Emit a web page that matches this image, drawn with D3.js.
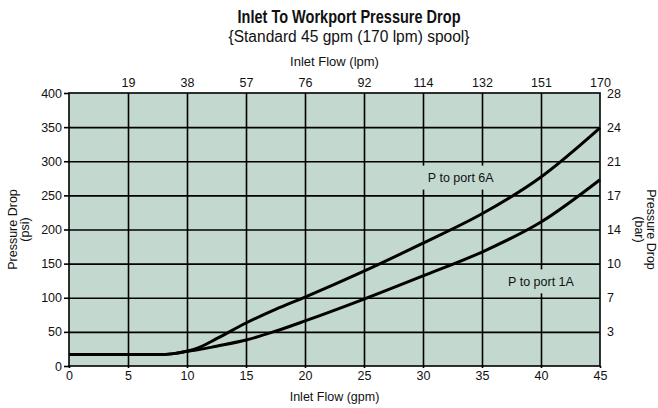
<!DOCTYPE html>
<html>
<head>
<meta charset="utf-8">
<script src="https://cdn.jsdelivr.net/npm/d3@7"></script>
<style>
  body { margin: 0; background: #fff; }
  text { font-family: "Liberation Sans", Arial, sans-serif; fill: #111; }
</style>
</head>
<body>
<div id="chart"></div>
<script>
// flow in gpm, pressure drop in psi
var flowGpm = [0, 5, 8, 9, 10, 11, 12.5, 15, 17.5, 20, 25, 30, 35, 40, 45];
var port6A  = [17, 17, 17, 18.5, 21.5, 27, 40, 63, 83, 101, 139, 180, 223, 277, 349];
var port1A  = [17, 17, 17, 18.5, 21.5, 24, 29, 38, 51, 66, 98, 132, 167, 211, 273];

var gpmTicks = [0, 5, 10, 15, 20, 25, 30, 35, 40, 45];
var lpmLabels = ["19", "38", "57", "76", "92", "114", "132", "151", "170"];
var psiTicks = [0, 50, 100, 150, 200, 250, 300, 350, 400];
var barLabels = ["3", "7", "10", "14", "17", "21", "24", "28"];

var W = 658, H = 408;
var margin = { top: 93, right: 58, bottom: 42, left: 69 };
var width = W - margin.left - margin.right;
var height = H - margin.top - margin.bottom;

var svg = d3.select("#chart").append("svg")
  .attr("width", W).attr("height", H);

var g = svg.append("g")
  .attr("transform", "translate(" + margin.left + "," + margin.top + ")");

var x = d3.scaleLinear().domain([0, 45]).range([0, width]);
var y = d3.scaleLinear().domain([0, 400]).range([height, 0]);

// plot background
g.append("rect")
  .attr("width", width).attr("height", height)
  .attr("fill", "#c3d9cf");

// grid
g.append("g")
  .attr("class", "grid")
  .call(d3.axisBottom(x).tickValues(gpmTicks.slice(1, -1)).tickSize(height).tickFormat(""))
  .call(s => s.select(".domain").remove());
g.append("g")
  .attr("class", "grid")
  .call(d3.axisLeft(y).tickValues(psiTicks.slice(1, -1)).tickSize(-width).tickFormat(""))
  .call(s => s.select(".domain").remove());
g.selectAll(".grid line").attr("stroke", "#000").attr("stroke-width", 1.6);

// label boxes hide the grid under the curve labels
var labels = [
  { text: "P to port 6A", gpm: 33.2, psi: 276 },
  { text: "P to port 1A", gpm: 40, psi: 124 }
];
labels.forEach(function (d) {
  g.append("rect")
    .attr("x", x(d.gpm) - 47).attr("y", y(d.psi) - 12)
    .attr("width", 94).attr("height", 24)
    .attr("fill", "#c3d9cf");
  g.append("text")
    .attr("x", x(d.gpm)).attr("y", y(d.psi) + 4.5)
    .attr("text-anchor", "middle")
    .style("font-size", "12.5px")
    .text(d.text);
});

// curves
var line = d3.line()
  .x((d) => x(d[0]))
  .y((d) => y(d[1]))
  .curve(d3.curveMonotoneX);

[port6A, port1A].forEach(function (s) {
  g.append("path")
    .datum(flowGpm.map((f, i) => [f, s[i]]))
    .attr("fill", "none")
    .attr("stroke", "#000")
    .attr("stroke-width", 3)
    .attr("d", line);
});

// frame
g.append("rect")
  .attr("width", width).attr("height", height)
  .attr("fill", "none").attr("stroke", "#000").attr("stroke-width", 1.6);

// left axis (psi)
var leftAxis = g.append("g")
  .call(d3.axisLeft(y).tickValues(psiTicks).tickSize(5).tickPadding(2));
leftAxis.select(".domain").remove();
leftAxis.selectAll("line").attr("stroke", "#000").attr("stroke-width", 1.6);
leftAxis.selectAll("text").style("font-size", "12.5px").attr("fill", "#111");

// bottom axis (gpm)
var bottomAxis = g.append("g")
  .attr("transform", "translate(0," + height + ")")
  .call(d3.axisBottom(x).tickValues(gpmTicks).tickSize(2).tickPadding(3));
bottomAxis.select(".domain").remove();
bottomAxis.selectAll("line").attr("stroke", "#000").attr("stroke-width", 1.6);
bottomAxis.selectAll("text").style("font-size", "12.5px").attr("fill", "#111");

// top axis (lpm labels)
var topAxis = g.append("g")
  .call(d3.axisTop(x).tickValues(gpmTicks.slice(1))
    .tickFormat((d, i) => lpmLabels[i]).tickSize(0).tickPadding(6));
topAxis.select(".domain").remove();
topAxis.selectAll("text").style("font-size", "12.5px").attr("fill", "#111");

// right axis (bar labels)
var rightAxis = g.append("g")
  .attr("transform", "translate(" + width + ",0)")
  .call(d3.axisRight(y).tickValues(psiTicks.slice(1))
    .tickFormat((d, i) => barLabels[i]).tickSize(0).tickPadding(7));
rightAxis.select(".domain").remove();
rightAxis.selectAll("text").style("font-size", "12.5px").attr("fill", "#111");

// titles
svg.append("text")
  .attr("x", 349).attr("y", 23)
  .attr("text-anchor", "middle")
  .attr("textLength", 223).attr("lengthAdjust", "spacingAndGlyphs")
  .style("font-size", "18px").style("font-weight", "bold")
  .text("Inlet To Workport Pressure Drop");
svg.append("text")
  .attr("x", 349).attr("y", 42)
  .attr("text-anchor", "middle")
  .attr("textLength", 241).attr("lengthAdjust", "spacingAndGlyphs")
  .style("font-size", "16px")
  .text("{Standard 45 gpm (170 lpm) spool}");

svg.append("text")
  .attr("x", margin.left + width / 2).attr("y", 66)
  .attr("text-anchor", "middle")
  .style("font-size", "13px")
  .text("Inlet Flow (lpm)");

svg.append("text")
  .attr("x", margin.left + width / 2).attr("y", 401)
  .attr("text-anchor", "middle")
  .style("font-size", "12.5px")
  .text("Inlet Flow (gpm)");

// y titles
var yl = svg.append("text")
  .attr("transform", "translate(17," + (margin.top + height / 2) + ") rotate(-90)")
  .attr("text-anchor", "middle")
  .style("font-size", "12.5px");
yl.append("tspan").attr("x", 0).attr("dy", 0).text("Pressure Drop");
yl.append("tspan").attr("x", 0).attr("dy", 12).text("(psi)");

var yr = svg.append("text")
  .attr("transform", "translate(647," + (margin.top + height / 2) + ") rotate(90)")
  .attr("text-anchor", "middle")
  .style("font-size", "12.5px");
yr.append("tspan").attr("x", 0).attr("dy", 0).text("Pressure Drop");
yr.append("tspan").attr("x", 0).attr("dy", 12).text("(bar)");
</script>
</body>
</html>
